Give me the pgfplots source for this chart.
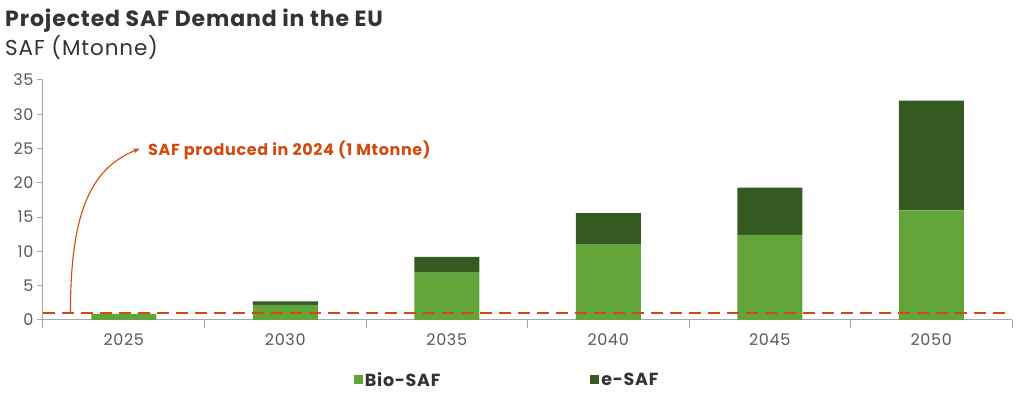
\documentclass[border=0pt]{standalone}
\usepackage{fontspec}
\setmainfont{Poppins}[LetterSpace=4]
\usepackage{pgfplots}
\pgfplotsset{compat=1.18}
\usetikzlibrary{arrows.meta}
\definecolor{bio}{HTML}{62A43A}
\definecolor{esaf}{HTML}{345A22}
\definecolor{orng}{HTML}{D24B0E}
\definecolor{txt}{HTML}{333333}
\definecolor{tick}{HTML}{595959}
\definecolor{axl}{HTML}{A6A6A6}
\begin{document}
\begin{tikzpicture}
\useasboundingbox (0pt,0pt) rectangle (1024pt,395pt);
\node[anchor=base west, font=\fontsize{22}{25}\selectfont\bfseries, text=txt, inner sep=0pt] at (5pt,368pt) {Projected SAF Demand in the EU};
\node[anchor=base west, font=\fontsize{21.5}{24}\selectfont, text=txt, inner sep=0pt] at (5pt,339pt) {SAF (Mtonne)};
\begin{axis}[
  at={(43pt,75pt)}, anchor=south west, scale only axis,
  width=969pt, height=240pt,
  xmin=-0.5, xmax=5.5, ymin=0, ymax=35,
  axis x line*=bottom, axis y line*=left,
  axis line style={axl, line width=1pt},
  ytick={0,5,...,35},
  xtick={0,1,2,3,4,5},
  xticklabels={2025,2030,2035,2040,2045,2050},
  minor xtick={-0.5,0.5,1.5,2.5,3.5,4.5,5.5},
  tick align=outside,
  major tick length=6pt,
  minor tick length=8pt,
  x tick style={draw=none},
  minor x tick style={draw=axl, line width=1pt},
  y tick style={axl, line width=1pt},
  tick label style={font=\fontsize{16}{19}\selectfont, text=tick},
  /pgf/number format/assume math mode=true,
  xticklabel style={yshift=-4pt},
  ybar stacked, bar width=65pt,
  legend columns=2,
  legend style={at={(0.479,-0.25)}, anchor=center, draw=none, fill=none,
     font=\fontsize{17.5}{20}\selectfont\bfseries, text=txt,
     /tikz/every even column/.append style={column sep=148pt}},
  legend image code/.code={\fill[#1] (0pt,-4.5pt) rectangle (9pt,4.5pt);},
]
\addplot[fill=bio, draw=none] coordinates {(0,0.9) (1,2.2) (2,6.9) (3,11.0) (4,12.4) (5,16.0)};
\addplot[fill=esaf, draw=none] coordinates {(0,0) (1,0.5) (2,2.3) (3,4.6) (4,6.9) (5,16.0)};
\legend{Bio-SAF, e-SAF}
\end{axis}
\begin{axis}[
  at={(43pt,75pt)}, anchor=south west, scale only axis,
  width=969pt, height=240pt,
  xmin=-0.5, xmax=5.5, ymin=0, ymax=35,
  axis lines=none, clip=false,
]
\addplot[orng, line width=2.6pt, dash pattern=on 12pt off 7pt] coordinates {(-0.5,1) (5.5,1)};
\draw[orng, line width=1.1pt, -{Stealth[length=7pt,width=5pt]}] (axis cs:-0.33,1) .. controls (axis cs:-0.33,15) and (axis cs:-0.22,22) .. (axis cs:0.1,25);
\node[anchor=west, text=orng, font=\fontsize{16}{19}\selectfont\bfseries, inner sep=0pt] at (axis cs:0.15,24.7) {SAF produced in 2024 (1 Mtonne)};
\end{axis}
\end{tikzpicture}
\end{document}
